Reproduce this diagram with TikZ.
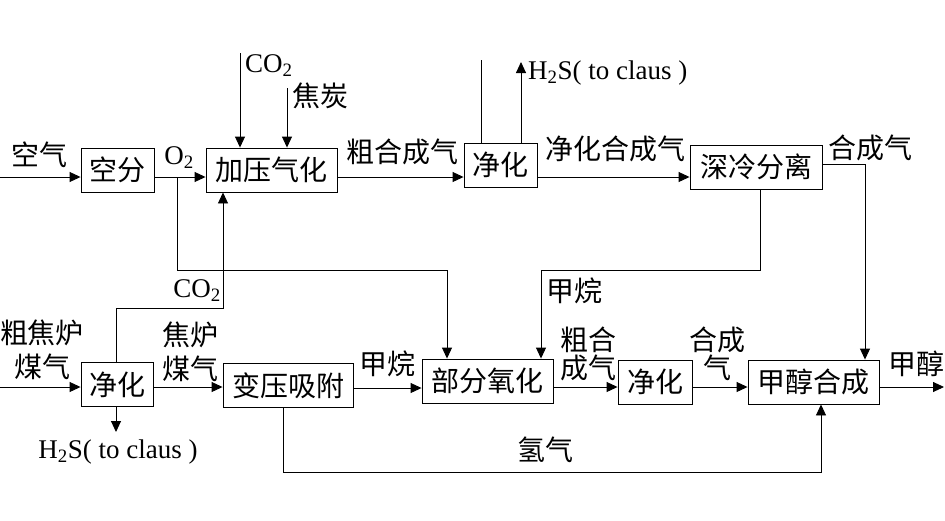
\documentclass[tikz,border=0pt]{standalone}
\usepackage{fontspec}
\setmainfont{Liberation Serif}
\newfontfamily\cjk{Noto Sans CJK SC}
\usetikzlibrary{arrows.meta}

\tikzset{
    unit/.style={draw, line width=0.9pt, inner sep=0pt, minimum height=44pt,
        font=\cjk\fontsize{28}{28}\selectfont},
    flow/.style={line width=0.9pt, -{Triangle[length=11pt,width=10pt]}},
    pipe/.style={line width=0.9pt},
    cn/.style={font=\cjk\fontsize{28}{28}\selectfont, align=center, inner sep=0pt},
    en/.style={font=\fontsize{27}{28}\selectfont, inner sep=0pt},
}

\begin{document}
\begin{tikzpicture}[x=1pt, y=-1pt]
    \useasboundingbox (0,0) rectangle (945,520);

    % Draw the process units, upper line
    \node[unit, minimum width=73pt] (kongfen) at (117.5,170) {空分};
    \node[unit, minimum width=131pt] (jiaya) at (271.5,170) {加压气化};
    \node[unit, minimum width=73pt] (jinghuaA) at (500.5,165) {净化};
    \node[unit, minimum width=132pt] (shenleng) at (756,167) {深冷分离};

    % Draw the process units, lower line
    \node[unit, minimum width=72pt] (jinghuaB) at (117,384.5) {净化};
    \node[unit, minimum width=130pt] (bianya) at (288,385.5) {变压吸附};
    \node[unit, minimum width=131pt] (bufen) at (487.5,381) {部分氧化};
    \node[unit, minimum width=74pt] (jinghuaC) at (655,382) {净化};
    \node[unit, minimum width=131pt] (jiachun) at (813.5,382) {甲醇合成};

    % Free ends and corners of the lines
    \coordinate (airin) at (0,177);
    \coordinate (o2split) at (177,177);
    \coordinate (o2turn) at (447,270);
    \coordinate (co2in) at (240,53);
    \coordinate (cokein) at (287,88);
    \coordinate (feedA) at (481,60);
    \coordinate (h2sA) at (521,62);
    \coordinate (syncorner) at (865,164);
    \coordinate (ch4turn) at (541,270);
    \coordinate (cokegasin) at (0,387);
    \coordinate (co2turn) at (223,308);
    \coordinate (h2sB) at (116,432);
    \coordinate (h2turn) at (821,472);
    \coordinate (meohout) at (944,387);

    % Upper line connectors
    \draw[flow] (airin) -- (kongfen.west |- airin);
    \draw[flow] (kongfen.east |- airin) -- (jiaya.west |- airin);
    \draw[flow] (o2split) |- (o2turn) -- (o2turn |- bufen.north);
    \draw[flow] (co2in) -- (co2in |- jiaya.north);
    \draw[flow] (cokein) -- (cokein |- jiaya.north);
    \draw[flow] (jiaya.east |- airin) -- (jinghuaA.west |- airin);
    \draw[pipe] (feedA) -- (feedA |- jinghuaA.north);
    \draw[flow] (h2sA |- jinghuaA.north) -- (h2sA);
    \draw[flow] (jinghuaA.east |- airin) -- (shenleng.west |- airin);
    \draw[flow] (shenleng.east |- syncorner) -- (syncorner) -- (syncorner |- jiachun.north);
    \draw[flow] (760,189) |- (ch4turn) -- (ch4turn |- bufen.north);

    % Lower line connectors
    \draw[flow] (cokegasin) -- (jinghuaB.west |- cokegasin);
    \draw[flow] (116,363) |- (co2turn) -- (co2turn |- jiaya.south);
    \draw[flow] (h2sB |- jinghuaB.south) -- (h2sB);
    \draw[flow] (jinghuaB.east |- cokegasin) -- (bianya.west |- cokegasin);
    \draw[flow] (bianya.east |- 0,388) -- (bufen.west |- 0,388);
    \draw[flow] (283,407) |- (h2turn) -- (h2turn |- jiachun.south);
    \draw[flow] (bufen.east |- cokegasin) -- (jinghuaC.west |- cokegasin);
    \draw[flow] (jinghuaC.east |- cokegasin) -- (jiachun.west |- cokegasin);
    \draw[flow] (jiachun.east |- meohout) -- (meohout);

    % Label the streams
    \node[cn] (lair) at (39,155) {空气};
    \node[en] (lo2) at (179,158) {O\textsubscript{2}};
    \node[en, anchor=west] (lco2) at (245,66) {CO\textsubscript{2}};
    \node[cn, anchor=west] (lcoke) at (292,96) {焦炭};
    \node[cn] (lrawA) at (402,152) {粗合成气};
    \node[en, anchor=west] (lh2sA) at (528,73) {H\textsubscript{2}S( to claus )};
    \node[cn] (lclean) at (615,149) {净化合成气};
    \node[cn] (lsynA) at (870,148) {合成气};
    \node[cn] (lch4A) at (574,291) {甲烷};
    \node[cn, font=\cjk\fontsize{28}{34}\selectfont] (lcokegas) at (42,350) {粗焦炉\\煤气};
    \node[en] (lco2B) at (197,291) {CO\textsubscript{2}};
    \node[en] (lh2sB) at (118,452) {H\textsubscript{2}S( to claus )};
    \node[cn, font=\cjk\fontsize{28}{34}\selectfont] (lcokegasB) at (190,352) {焦炉\\煤气};
    \node[cn] (lch4B) at (387,364) {甲烷};
    \node[cn] (lrawB) at (588,354) {粗合\\成气};
    \node[cn] (lsynB) at (717,354) {合成\\气};
    \node[cn] (lmeoh) at (916,364) {甲醇};
    \node[cn] (lh2) at (545,450) {氢气};
\end{tikzpicture}
\end{document}
